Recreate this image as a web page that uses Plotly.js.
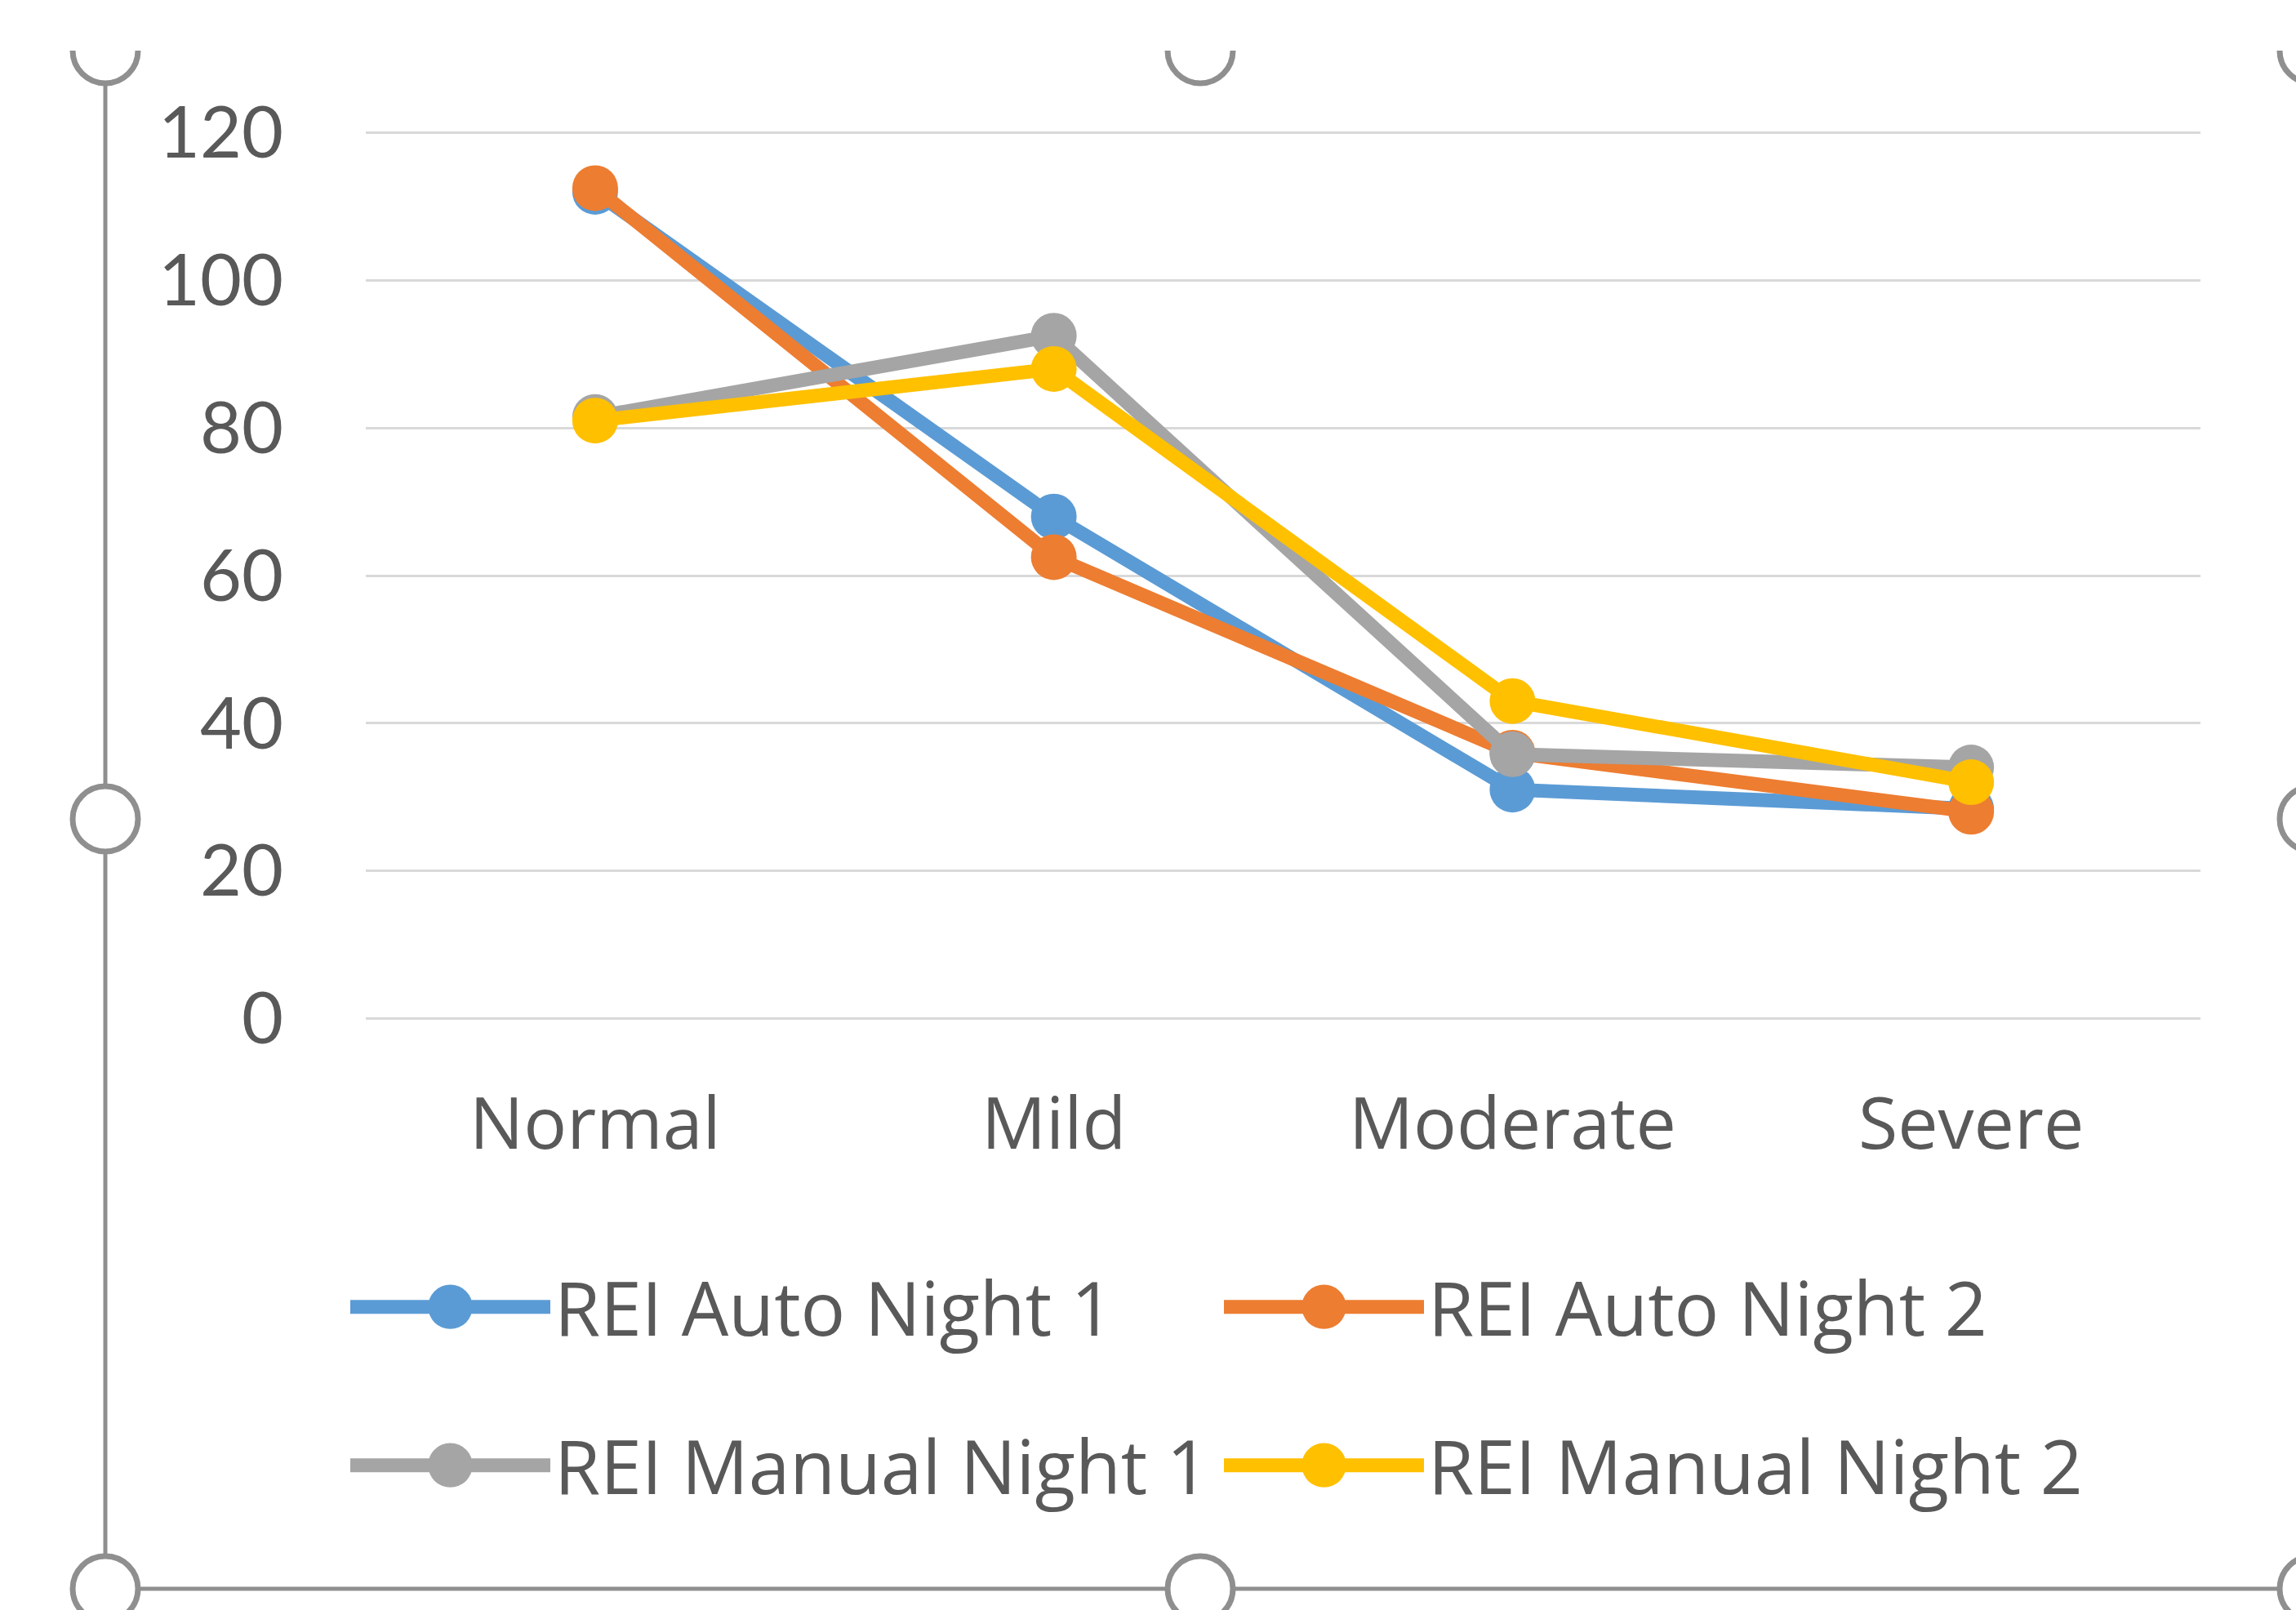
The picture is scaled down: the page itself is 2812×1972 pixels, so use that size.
<!DOCTYPE html>
<html>
<head>
<meta charset="utf-8">
<script src="https://cdn.plot.ly/plotly-3.0.1.min.js"></script>
<style>html,body{margin:0;padding:0;background:#fff;}#chart{width:2812px;height:1972px;}</style>
</head>
<body>
<div id="chart"></div>
<script>
// ---- data ----
const categories = ["Normal", "Mild", "Moderate", "Severe"];
const autoNight1 = [112, 68, 31, 28.4];
const autoNight2 = [112.5, 62.5, 36, 28];
const manualNight1 = [81.5, 92.5, 35.8, 34];
const manualNight2 = [81, 88, 43, 32];
const seriesNames = ["REI Auto Night 1", "REI Auto Night 2", "REI Manual Night 1", "REI Manual Night 2"];
const yTicks = [0, 20, 40, 60, 80, 100, 120];

// ---- geometry ----
const W = 2812, H = 1972;
const M = {l: 448, r: 117, t: 159, b: 721};
const pw = W - M.l - M.r, ph = H - M.t - M.b;
const px = x => (x - M.l) / pw;
const py = y => (H - M.b - y) / ph;

const colors = ["#5B9BD5", "#ED7D31", "#A5A5A5", "#FFC000"];
const seriesData = [autoNight1, autoNight2, manualNight1, manualNight2];
const legendIds = ["legend", "legend", "legend2", "legend2"];

const traces = seriesData.map((vals, i) => ({
  type: "scatter",
  mode: "lines+markers",
  x: categories,
  y: vals,
  name: seriesNames[i],
  legend: legendIds[i],
  line: {color: colors[i], width: 17},
  marker: {color: colors[i], size: 56},
  hoverinfo: "skip"
}));

const textColor = "#595959";
const handleColor = "#8f8f8f";
const frameColor = "#8f8f8f";
const fontFam = "'Open Sans', Lato, sans-serif";

function handle(xp, yp) {
  return {type: "circle", xref: "paper", yref: "paper",
    xsizemode: "pixel", ysizemode: "pixel",
    xanchor: px(xp), yanchor: py(yp),
    x0: -40, x1: 40, y0: -40, y1: 40,
    fillcolor: "#ffffff", line: {color: handleColor, width: 7}, layer: "above"};
}

const shapes = [
  {type: "line", xref: "paper", yref: "paper", x0: px(129), x1: px(129), y0: py(62), y1: py(1946),
   line: {color: frameColor, width: 5}, layer: "above"},
  {type: "line", xref: "paper", yref: "paper", x0: px(129), x1: px(2840), y0: py(1946), y1: py(1946),
   line: {color: frameColor, width: 5}, layer: "above"},
  handle(129, 62), handle(1470, 62), handle(2832, 62),
  handle(129, 1003), handle(2832, 1003),
  handle(129, 1946), handle(1470, 1946), handle(2832, 1946),
  {type: "rect", xref: "paper", yref: "paper", x0: px(0), x1: px(W), y0: py(0), y1: py(62),
   fillcolor: "#ffffff", line: {width: 0}, layer: "above"}
];

const legendCommon = {
  orientation: "h",
  xanchor: "left",
  yanchor: "middle",
  font: {family: fontFam, size: 91, color: textColor},
  itemwidth: 245,
  entrywidth: 810,
  entrywidthmode: "pixels",
  bgcolor: "rgba(0,0,0,0)",
  traceorder: "normal",
  itemclick: false, itemdoubleclick: false
};

const layout = {
  width: W, height: H,
  margin: M,
  paper_bgcolor: "#ffffff",
  plot_bgcolor: "#ffffff",
  showlegend: true,
  font: {family: fontFam, size: 86, color: textColor},
  xaxis: {
    type: "category",
    categoryarray: categories,
    range: [-0.5, 3.5],
    showgrid: false, zeroline: false, showline: false,
    ticks: "", ticklabelstandoff: 67,
    tickfont: {family: fontFam, size: 88, color: textColor},
    fixedrange: true
  },
  yaxis: {
    range: [-0.4, 120.4],
    tickvals: yTicks,
    showgrid: true, gridcolor: "#d9d9d9", gridwidth: 3,
    zeroline: false, showline: false,
    ticks: "", ticklabelstandoff: 100,
    tickfont: {family: "Lato, 'Open Sans', sans-serif", size: 88, color: textColor},
    fixedrange: true
  },
  legend: Object.assign({}, legendCommon, {x: px(424), y: py(1601)}),
  legend2: Object.assign({}, legendCommon, {x: px(424), y: py(1795)}),
  shapes: shapes
};

Plotly.newPlot("chart", traces, layout, {displayModeBar: false, staticPlot: true}).then(gd => {
  // enlarge legend symbols to match the thick lines/markers of the chart
  gd.querySelectorAll(".legendlines path").forEach(p => {
    p.style.strokeWidth = "17px";
  });
  gd.querySelectorAll(".legendpoints path.scatterpts").forEach(p => {
    const t = p.getAttribute("transform") || "";
    p.setAttribute("transform", t + " scale(3.4)");
  });
});
</script>
</body>
</html>
